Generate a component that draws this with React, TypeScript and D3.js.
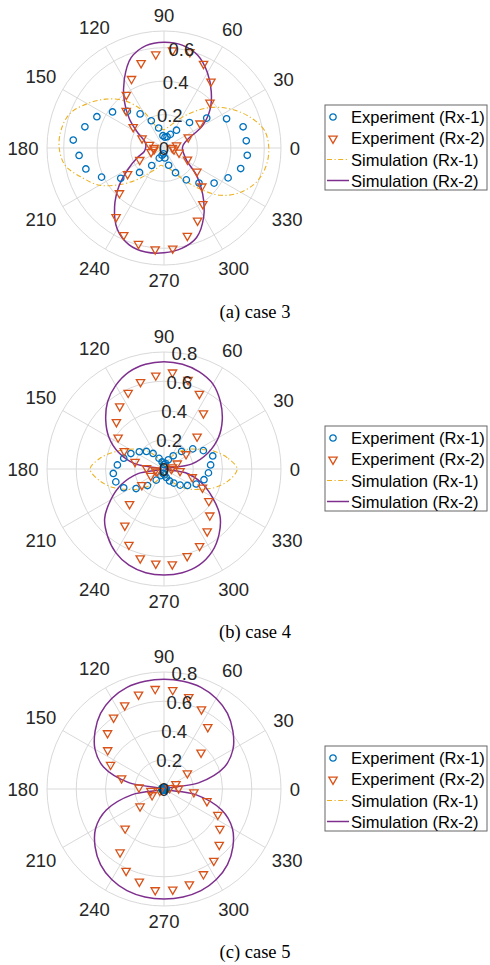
import React from 'react';
import * as d3 from 'd3';

// ---------- data ----------
const simAngles = [0, 10, 20, 30, 40, 50, 60, 70, 80, 90, 100, 110, 120, 130, 140, 150, 160, 170, 180, 190, 200, 210, 220, 230, 240, 250, 260, 270, 280, 290, 300, 310, 320, 330, 340, 350];
const expAngles = [5, 15, 25, 35, 45, 55, 65, 75, 85, 95, 105, 115, 125, 135, 145, 155, 165, 175, 185, 195, 205, 215, 225, 235, 245, 255, 265, 275, 285, 295, 305, 315, 325, 335, 345, 355];
const thetaTicks = [0, 30, 60, 90, 120, 150, 180, 210, 240, 270, 300, 330];
const seriesNames = ['Experiment (Rx-1)', 'Experiment (Rx-2)', 'Simulation (Rx-1)', 'Simulation (Rx-2)'];
const captions = ['(a) case 3', '(b) case 4', '(c) case 5'];
const rMaxes = [0.7, 0.8, 0.8];
const rTickSets = [[0, 0.2, 0.4, 0.6], [0, 0.2, 0.4, 0.6, 0.8], [0, 0.2, 0.4, 0.6, 0.8]];

// case 3
const case3ExpRx1 = [0.494, 0.49, 0.413, 0.312, 0.216, 0.13, 0.09, 0.07, 0.065, 0.074, 0.124, 0.18, 0.249, 0.31, 0.376, 0.443, 0.49, 0.545, 0.51, 0.484, 0.412, 0.316, 0.207, 0.128, 0.067, 0.045, 0.035, 0.06, 0.107, 0.163, 0.233, 0.296, 0.366, 0.423, 0.475, 0.5];
const case3ExpRx2 = [0.05, 0.078, 0.16, 0.263, 0.389, 0.49, 0.56, 0.598, 0.59, 0.566, 0.53, 0.46, 0.393, 0.32, 0.225, 0.145, 0.09, 0.06, 0.06, 0.08, 0.16, 0.266, 0.377, 0.5, 0.57, 0.59, 0.605, 0.6, 0.54, 0.475, 0.405, 0.32, 0.24, 0.155, 0.093, 0.06];
const case3SimRx1 = [0.627, 0.61, 0.545, 0.465, 0.378, 0.287, 0.21, 0.155, 0.125, 0.11, 0.118, 0.14, 0.26, 0.37, 0.455, 0.53, 0.6, 0.625, 0.627, 0.6, 0.52, 0.445, 0.34, 0.245, 0.17, 0.13, 0.105, 0.11, 0.12, 0.145, 0.21, 0.31, 0.44, 0.53, 0.59, 0.62];
const case3SimRx2 = [0.11, 0.118, 0.15, 0.265, 0.36, 0.44, 0.52, 0.59, 0.625, 0.633, 0.622, 0.575, 0.475, 0.37, 0.27, 0.18, 0.125, 0.11, 0.11, 0.12, 0.17, 0.245, 0.35, 0.46, 0.56, 0.615, 0.632, 0.627, 0.61, 0.57, 0.475, 0.36, 0.255, 0.16, 0.13, 0.115];

// case 4
const case4ExpRx1 = [0.32, 0.345, 0.297, 0.24, 0.17, 0.11, 0.07, 0.04, 0.03, 0.03, 0.05, 0.08, 0.13, 0.17, 0.206, 0.25, 0.285, 0.32, 0.348, 0.341, 0.304, 0.233, 0.16, 0.093, 0.05, 0.03, 0.03, 0.04, 0.06, 0.09, 0.118, 0.156, 0.196, 0.243, 0.283, 0.305];
const case4ExpRx2 = [0.05, 0.06, 0.1, 0.184, 0.32, 0.47, 0.572, 0.635, 0.667, 0.646, 0.62, 0.58, 0.528, 0.46, 0.383, 0.3, 0.205, 0.12, 0.06, 0.05, 0.1, 0.185, 0.333, 0.467, 0.567, 0.628, 0.645, 0.65, 0.612, 0.576, 0.515, 0.443, 0.374, 0.29, 0.2, 0.11];
const case4SimRx1 = [0.5, 0.44, 0.36, 0.27, 0.21, 0.15, 0.09, 0.05, 0.02, 0.005, 0.02, 0.05, 0.09, 0.15, 0.21, 0.27, 0.35, 0.44, 0.505, 0.45, 0.37, 0.28, 0.21, 0.145, 0.09, 0.05, 0.02, 0.005, 0.02, 0.05, 0.09, 0.145, 0.21, 0.28, 0.37, 0.45];
const case4SimRx2 = [0.01, 0.19, 0.32, 0.43, 0.52, 0.6, 0.67, 0.707, 0.727, 0.734, 0.727, 0.705, 0.66, 0.6, 0.52, 0.435, 0.33, 0.2, 0.02, 0.18, 0.31, 0.42, 0.53, 0.6, 0.66, 0.7, 0.72, 0.725, 0.72, 0.7, 0.655, 0.585, 0.5, 0.38, 0.27, 0.15];

// case 5
const case5ExpRx1 = [0.012, 0.015, 0.014, 0.01, 0.007, 0.005, 0.004, 0.003, 0.003, 0.003, 0.004, 0.006, 0.008, 0.01, 0.012, 0.013, 0.014, 0.015, 0.015, 0.014, 0.012, 0.01, 0.007, 0.005, 0.004, 0.003, 0.003, 0.003, 0.004, 0.006, 0.008, 0.01, 0.012, 0.013, 0.014, 0.015];
const case5ExpRx2 = [0.1, 0.04, 0.09, 0.195, 0.358, 0.522, 0.606, 0.655, 0.684, 0.691, 0.673, 0.636, 0.601, 0.546, 0.47, 0.403, 0.3, 0.172, 0.09, 0.03, 0.09, 0.2, 0.376, 0.524, 0.613, 0.651, 0.69, 0.686, 0.67, 0.638, 0.594, 0.534, 0.466, 0.406, 0.304, 0.205];
const case5SimRx1 = [0.01, 0.009, 0.007, 0.005, 0.004, 0.003, 0.002, 0.001, 0.0005, 0, 0.0005, 0.001, 0.002, 0.003, 0.004, 0.005, 0.007, 0.009, 0.01, 0.009, 0.007, 0.005, 0.004, 0.003, 0.002, 0.001, 0.0005, 0, 0.0005, 0.001, 0.002, 0.003, 0.004, 0.005, 0.007, 0.009];
const case5SimRx2 = [0.0, 0.24, 0.44, 0.545, 0.615, 0.675, 0.715, 0.74, 0.748, 0.75, 0.748, 0.74, 0.715, 0.675, 0.615, 0.545, 0.44, 0.24, 0.0, 0.22, 0.42, 0.54, 0.615, 0.675, 0.715, 0.74, 0.75, 0.752, 0.75, 0.74, 0.715, 0.675, 0.615, 0.54, 0.42, 0.22];

const expRx1 = [case3ExpRx1, case4ExpRx1, case5ExpRx1];
const expRx2 = [case3ExpRx2, case4ExpRx2, case5ExpRx2];
const simRx1 = [case3SimRx1, case4SimRx1, case5SimRx1];
const simRx2 = [case3SimRx2, case4SimRx2, case5SimRx2];

// ---------- styles ----------
const W = 490;
const H = 965;
const CX = 164;
const CYS = [148, 469, 789];
const R = 117;
const COLORS = { blue: '#0072BD', red: '#D95319', yellow: '#EDB120', purple: '#7E2F8E' };
const GRID = '#d9d9d9';
const TXT = '#262626';
const SANS = 'Arial, "Liberation Sans", Helvetica, sans-serif';
const SERIF = '"Times New Roman", "Liberation Serif", serif';
const DASHDOT = '5,2.5,1.2,2.5';

const rad = (deg: number) => (deg * Math.PI) / 180;

const circleSym = d3.symbol().type(d3.symbolCircle).size(32)() as string;
const triSym = d3.symbol().type(d3.symbolTriangle).size(30)() as string;

function Marker({ kind, x, y }: { kind: 'circle' | 'tri'; x: number; y: number }) {
  if (kind === 'circle') {
    return <path d={circleSym} transform={`translate(${x},${y})`} fill="none" stroke={COLORS.blue} strokeWidth={1.3} />;
  }
  return <path d={triSym} transform={`translate(${x},${y + 0.6}) rotate(180)`} fill="none" stroke={COLORS.red} strokeWidth={1.3} />;
}

function Panel({ idx }: { idx: number }) {
  const cy = CYS[idx];
  const rMax = rMaxes[idx];
  const rTicks = rTickSets[idx];
  const s = d3.scaleLinear().domain([0, rMax]).range([0, R]);
  const rings = rTicks.filter((t) => t > 0);
  if (Math.abs(rings[rings.length - 1] - rMax) > 1e-9) rings.push(rMax);

  const line = d3
    .lineRadial<[number, number]>()
    .angle((d) => rad(90 - d[0]))
    .radius((d) => s(d[1]))
    .curve(d3.curveCatmullRomClosed.alpha(0.5));

  const pt = (deg: number, r: number) => {
    const [px, py] = d3.pointRadial(rad(90 - deg), s(r));
    return [CX + px, cy + py];
  };

  const sim1 = simAngles.map((a, i) => [a, simRx1[idx][i]] as [number, number]);
  const sim2 = simAngles.map((a, i) => [a, simRx2[idx][i]] as [number, number]);

  const lx = 325;
  const ly = cy - 43;
  const rowY = [12, 33, 54.5, 75.5];

  return (
    <g>
      {rings.map((r) => (
        <circle key={'ring' + r} cx={CX} cy={cy} r={s(r)} fill="none" stroke={GRID} strokeWidth={1} />
      ))}
      {thetaTicks.map((t) => {
        const [x2, y2] = pt(t, rMax);
        return <line key={'sp' + t} x1={CX} y1={cy} x2={x2} y2={y2} stroke={GRID} strokeWidth={1} />;
      })}
      <g transform={`translate(${CX},${cy})`}>
        <path d={line(sim1) as string} fill="none" stroke={COLORS.yellow} strokeWidth={1.1} strokeDasharray={DASHDOT} />
        <path d={line(sim2) as string} fill="none" stroke={COLORS.purple} strokeWidth={1.5} />
      </g>
      {expAngles.map((a, i) => {
        const [x, y] = pt(a, expRx1[idx][i]);
        return <Marker key={'e1' + a} kind="circle" x={x} y={y} />;
      })}
      {expAngles.map((a, i) => {
        const [x, y] = pt(a, expRx2[idx][i]);
        return <Marker key={'e2' + a} kind="tri" x={x} y={y} />;
      })}
      {thetaTicks.map((t) => {
        const label = String(t);
        const w = label.length * 10;
        const h = 13;
        const th = rad(t);
        const d = 126 + (w / 2) * Math.abs(Math.cos(th)) + (h / 2) * Math.abs(Math.sin(th));
        return (
          <text key={'tl' + t} x={CX + d * Math.cos(th)} y={cy - d * Math.sin(th)} textAnchor="middle" dominantBaseline="central" fontFamily={SANS} fontSize={18.5} fill={TXT}>
            {label}
          </text>
        );
      })}
      {rTicks.map((r) => {
        const [x, y] = pt(80, r);
        return (
          <text key={'rl' + r} x={x} y={y} textAnchor="middle" dominantBaseline="central" fontFamily={SANS} fontSize={18.5} fill={TXT}>
            {r === 0 ? '0' : d3.format('.1f')(r)}
          </text>
        );
      })}
      <rect x={lx} y={ly} width={162} height={85} fill="#fff" stroke="#666" strokeWidth={1} />
      {seriesNames.map((name, i) => {
        const yy = ly + rowY[i];
        let icon: React.ReactNode = null;
        if (i === 0) icon = <Marker kind="circle" x={lx + 8} y={yy} />;
        if (i === 1) icon = <Marker kind="tri" x={lx + 8} y={yy} />;
        if (i === 2) icon = <line x1={lx + 2} x2={lx + 24} y1={yy} y2={yy} stroke={COLORS.yellow} strokeWidth={1.1} strokeDasharray={DASHDOT} />;
        if (i === 3) icon = <line x1={lx + 2} x2={lx + 24} y1={yy} y2={yy} stroke={COLORS.purple} strokeWidth={1.5} />;
        return (
          <g key={name}>
            {icon}
            <text x={lx + 26} y={yy} dominantBaseline="central" fontFamily={SANS} fontSize={16.5} fill="#000">
              {name}
            </text>
          </g>
        );
      })}
      <text x={255} y={318 + idx * 320} textAnchor="middle" fontFamily={SERIF} fontSize={18.5} fill="#000">
        {captions[idx]}
      </text>
    </g>
  );
}

export default function App() {
  return (
    <svg width={W} height={H} viewBox={`0 0 ${W} ${H}`} style={{ position: 'absolute', left: 0, top: 0, background: '#fff' }}>
      <rect x={0} y={0} width={W} height={H} fill="#fff" />
      {[0, 1, 2].map((i) => (
        <Panel key={i} idx={i} />
      ))}
    </svg>
  );
}
